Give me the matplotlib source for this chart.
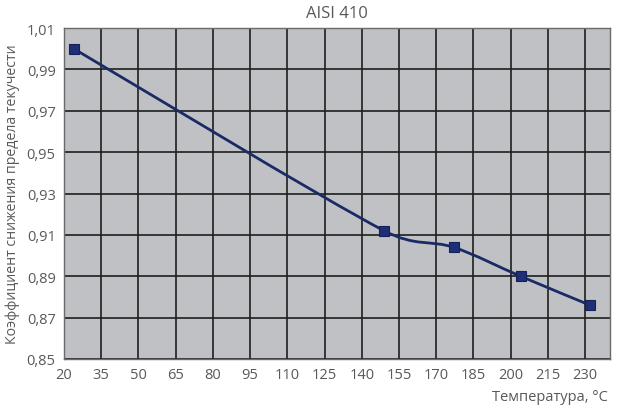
import matplotlib
matplotlib.use('Agg')
import matplotlib.pyplot as plt
from matplotlib.path import Path
from matplotlib.patches import PathPatch
import numpy as np

plt.rcParams['font.family'] = ['Open Sans', 'DejaVu Sans']

# температура, °C и коэффициент снижения предела текучести
temps = [24, 149, 177, 204, 232]
factors = [1.000, 0.912, 0.904, 0.890, 0.876]
x_ticks = list(range(20, 231, 15))
y_ticks = [0.85, 0.87, 0.89, 0.91, 0.93, 0.95, 0.97, 0.99, 1.01]

text_col = '#595959'
line_col = '#1a2a66'

def unit(v):
    return v / np.hypot(*v)

def smooth_path(pts, k=0.5):
    # smoothed line like a spreadsheet: catmull-rom tangents,
    # control distance capped by the segment length (screen space)
    verts = [pts[0]]
    codes = [Path.MOVETO]
    n = len(pts)
    for i in range(n - 1):
        p0 = pts[i - 1] if i > 0 else pts[i]
        p1 = pts[i]
        p2 = pts[i + 1]
        p3 = pts[i + 2] if i + 2 < n else pts[i + 1]
        seg = np.hypot(*(p2 - p1))
        a = min(np.hypot(*(p2 - p0)) / 6, seg * k)
        b = min(np.hypot(*(p3 - p1)) / 6, seg * k)
        c1 = p1 + unit(p2 - p0) * a
        c2 = p2 - unit(p3 - p1) * b
        verts += [c1, c2, p2]
        codes += [Path.CURVE4] * 3
    return Path(verts, codes)

fig = plt.figure(figsize=(6.2, 4.1), dpi=100)
ax = fig.add_axes([0.1032, 0.122, 0.8806, 0.807])
ax.set_facecolor('#bfc1c4')

ax.set_xlim(20, 240)
ax.set_ylim(0.85, 1.01)

# smoothing done in display coordinates
disp = ax.transData.transform(np.column_stack([temps, factors]))
ax.add_patch(PathPatch(smooth_path(disp), facecolor='none', transform=None,
                       edgecolor=line_col, lw=2, zorder=3))
ax.plot(temps, factors, ls='none', marker='s', ms=7.5, color='#1f2f75',
        mec='#15205a', mew=0.8, zorder=4)

ax.set_xticks(x_ticks)
ax.set_yticks(y_ticks)
ax.set_yticklabels([('%.2f' % v).replace('.', ',') for v in y_ticks])
ax.grid(True, color='#1e1e1e', lw=1.2)
ax.set_axisbelow(True)
ax.tick_params(length=0, colors=text_col, labelsize=10.5, pad=6)
for s in ax.spines.values():
    s.set_color('#6a6a6a')
    s.set_linewidth(1)

ax.set_title('AISI 410', color=text_col, fontsize=12, pad=8)
ax.set_ylabel('Коэффициент снижения предела текучести', color=text_col,
              fontsize=10.2, labelpad=5)
fig.text(0.98, 0.03, 'Температура, °C', color=text_col, fontsize=10.5,
         ha='right', va='center')

fig.savefig('out.png', dpi=100)
